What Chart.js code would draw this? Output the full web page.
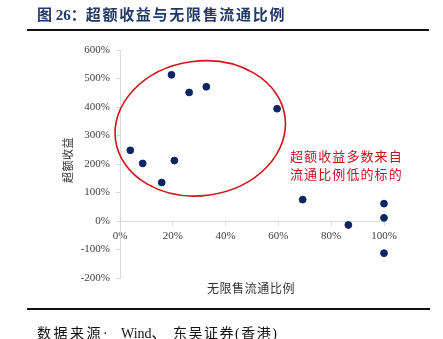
<!DOCTYPE html>
<html><head><meta charset="utf-8">
<script src="https://cdn.jsdelivr.net/npm/chart.js@4/dist/chart.umd.min.js"></script>
<style>
html,body{margin:0;padding:0;background:#fff;width:443px;height:339px;overflow:hidden;position:relative;font-family:"Liberation Serif","Noto Sans CJK SC",serif;}
#wrap{position:absolute;left:0;top:0;width:443px;height:339px;}
.t{position:absolute;white-space:nowrap;}
#title{left:37px;top:4px;font-size:15px;font-weight:bold;color:#1f3864;line-height:22px;}
#title .cn{letter-spacing:1.7px;}
#rule1{position:absolute;left:27px;top:29px;width:402px;height:2px;background:#111;}
#rule2{position:absolute;left:27px;top:308px;width:403px;height:2px;background:#111;}
#src{left:37px;top:325px;font-size:14px;color:#111;line-height:18px;}
#note{left:290px;top:148px;font-size:13px;color:#c0161e;letter-spacing:1.1px;line-height:18px;}
#ytitle{left:67px;top:160px;font-size:11px;color:#333;transform:translate(-50%,-50%) rotate(-90deg);letter-spacing:0.5px;}
#xtitle{left:251px;top:288px;font-size:12px;color:#333;transform:translate(-50%,-50%);letter-spacing:0.6px;}
</style></head>
<body>
<div id="wrap"><canvas id="c" width="443" height="339"></canvas></div>
<div class="t" id="title">图 26：<span class="cn">超额收益与无限售流通比例</span></div>
<div id="rule1"></div>
<div id="rule2"></div>
<div class="t" id="src"><span style="letter-spacing:2.5px">数据来源·</span><span style="position:absolute;left:84px;top:0">Wind、</span><span style="position:absolute;left:136px;top:0;letter-spacing:1.5px">东吴证券(香港)</span></div>
<div class="t" id="note">超额收益多数来自<br>流通比例低的标的</div>
<div class="t" id="ytitle">超额收益</div>
<div class="t" id="xtitle">无限售流通比例</div>
<script>
// Data
const floatRatio   = [0.039, 0.086, 0.158, 0.195, 0.206, 0.262, 0.327, 0.595, 0.692, 0.865, 1.0, 1.0, 1.0];
const excessReturn = [2.48, 2.02, 1.35, 5.13, 2.12, 4.51, 4.71, 3.94, 0.75, -0.14, 0.61, 0.11, -1.13];
const xTicks = [0, 0.2, 0.4, 0.6, 0.8, 1.0];
const yTicks = [-2, -1, 0, 1, 2, 3, 4, 5, 6];
// highlight ellipse (data units)
const ellipseCenter = [0.304, 3.25];
const ellipseHalf = [0.324, 2.36];
const ellipseTilt = -0.14;

const points = floatRatio.map((x, i) => ({x: x, y: excessReturn[i]}));
const pct = v => Math.round(v * 100) + '%';

const ellipsePlugin = {
  id: 'ellipse',
  afterDatasetsDraw(chart) {
    const {ctx, scales: {x, y}} = chart;
    const cx = x.getPixelForValue(ellipseCenter[0]);
    const cy = y.getPixelForValue(ellipseCenter[1]);
    const rx = Math.abs(x.getPixelForValue(ellipseCenter[0] + ellipseHalf[0]) - cx);
    const ry = Math.abs(y.getPixelForValue(ellipseCenter[1] + ellipseHalf[1]) - cy);
    ctx.save();
    ctx.beginPath();
    ctx.ellipse(cx, cy, rx, ry, ellipseTilt, 0, Math.PI * 2);
    ctx.strokeStyle = '#d0141c';
    ctx.lineWidth = 1.6;
    ctx.stroke();
    ctx.restore();
  }
};

const tickFont = {family: '"Liberation Serif", serif', size: 11};
new Chart(document.getElementById('c'), {
  type: 'scatter',
  data: {datasets: [{
    data: points,
    backgroundColor: '#0b2463',
    borderColor: '#0b2463',
    pointRadius: 3.4,
    pointHoverRadius: 3.4,
    clip: false
  }]},
  options: {
    responsive: false,
    animation: false,
    events: [],
    layout: {padding: {left: 60, top: 50, right: 59, bottom: 61}},
    plugins: {legend: {display: false}, tooltip: {enabled: false}},
    scales: {
      x: {
        type: 'linear', position: {y: 0}, min: 0, max: 1,
        afterBuildTicks: s => { s.ticks = xTicks.map(v => ({value: v})); },
        ticks: {callback: pct, color: '#404040', font: tickFont, padding: 5, maxRotation: 0},
        grid: {drawOnChartArea: false, drawTicks: true, tickLength: 4, color: '#d9d9d9'},
        border: {display: true, color: '#d9d9d9'}
      },
      y: {
        type: 'linear', position: 'left', min: -2, max: 6,
        afterBuildTicks: s => { s.ticks = yTicks.map(v => ({value: v})); },
        afterFit: s => { s.width = 60; },
        ticks: {callback: pct, color: '#404040', font: tickFont, padding: 6},
        grid: {drawOnChartArea: false, drawTicks: true, tickLength: 4, color: '#d9d9d9'},
        border: {display: true, color: '#d9d9d9'}
      }
    }
  },
  plugins: [ellipsePlugin]
});
</script>
</body></html>
